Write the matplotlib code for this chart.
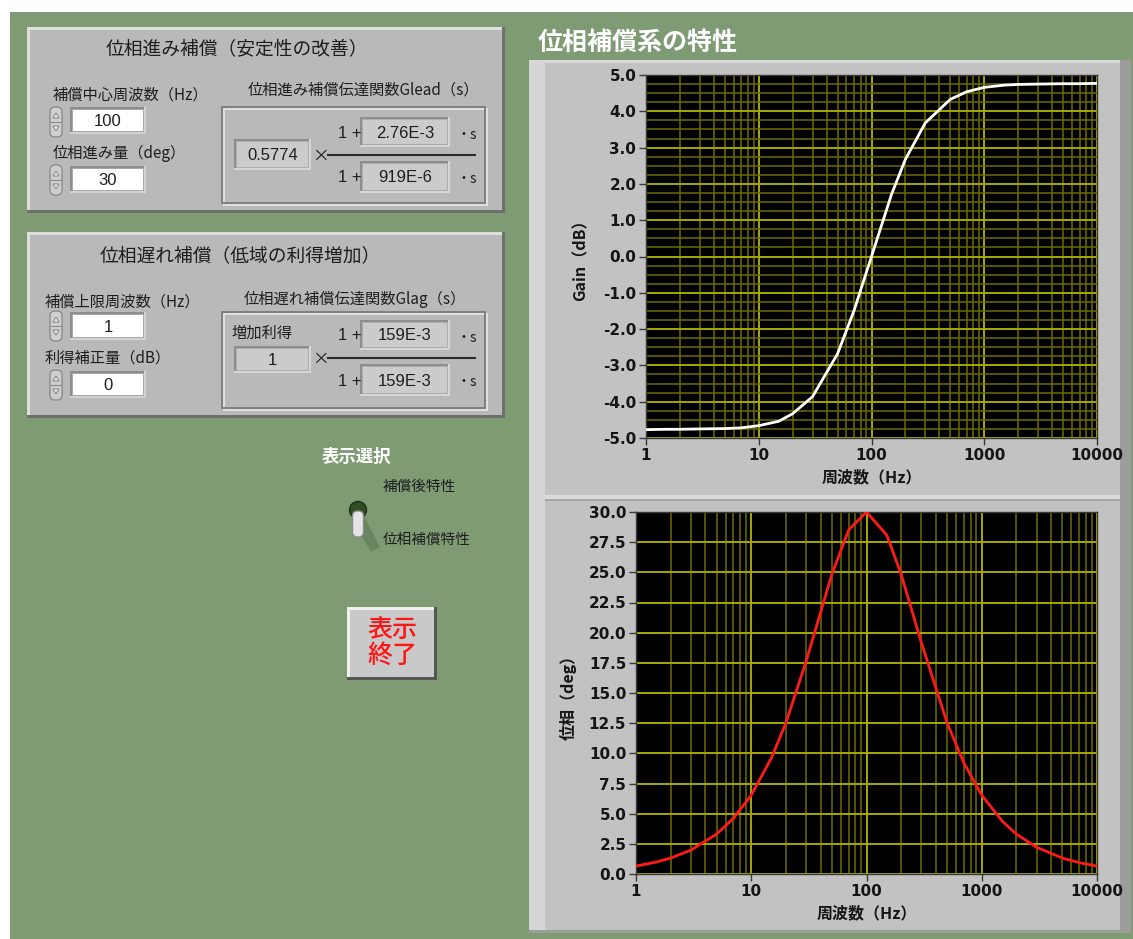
import matplotlib

matplotlib.use("Agg")
import matplotlib.pyplot as plt
from matplotlib.patches import Rectangle, FancyBboxPatch, Polygon, Circle
from matplotlib.ticker import FixedLocator, FixedFormatter, NullFormatter, LogLocator

W, H = 1133, 939

# --- data ---
freq_hz = [1, 1.5, 2, 3, 5, 7, 10, 15, 20, 30, 50, 70, 100, 150, 200, 300,
           500, 700, 1000, 1500, 2000, 3000, 5000, 7000, 10000]
gain_db = [-4.77, -4.76, -4.76, -4.75, -4.74, -4.72, -4.66, -4.54, -4.33, -3.86,
           -2.68, -1.49, 0.0, 1.70, 2.68, 3.68, 4.33, 4.54, 4.66, 4.72, 4.74,
           4.75, 4.76, 4.76, 4.77]
phase_deg = [0.66, 0.99, 1.32, 1.98, 3.30, 4.61, 6.53, 9.63, 12.53, 17.66,
             24.83, 28.51, 30.0, 28.08, 24.83, 19.14, 12.53, 9.20, 6.53, 4.40,
             3.30, 2.21, 1.32, 0.94, 0.66]

freq_ticks = [1, 10, 100, 1000, 10000]
freq_labels = ["1", "10", "100", "1000", "10000"]
gain_ticks = [-5.0, -4.0, -3.0, -2.0, -1.0, 0.0, 1.0, 2.0, 3.0, 4.0, 5.0]
phase_ticks = [0.0, 2.5, 5.0, 7.5, 10.0, 12.5, 15.0, 17.5, 20.0, 22.5, 25.0, 27.5, 30.0]

# --- front panel values ---
lead_center_hz = "100"
lead_amount_deg = "30"
lead_gain = "0.5774"
lead_num = "2.76E-3"
lead_den = "919E-6"
lag_upper_hz = "1"
lag_gain_db = "0"
lag_gain = "1"
lag_num = "159E-3"
lag_den = "159E-3"

GREEN = "#7e9b74"
PANEL = "#b9b9b9"
FRAME = "#c2c2c2"
JP = ["Noto Sans CJK JP", "DejaVu Sans"]
NUM = ["Liberation Sans", "DejaVu Sans"]
INK = "#1e1e1e"

fig = plt.figure(figsize=(W / 100, H / 100), dpi=100)
fig.patch.set_facecolor("white")
bg = fig.add_axes([0, 0, 1, 1])
bg.set_xlim(0, W)
bg.set_ylim(H, 0)
bg.axis("off")


def rect(x0, y0, x1, y1, color, z=1):
    bg.add_patch(Rectangle((x0, y0), x1 - x0, y1 - y0, facecolor=color,
                           edgecolor="none", zorder=z))


def bevel(x0, y0, x1, y1, face, hi, lo, w=2, z=1):
    rect(x0, y0, x1, y1, face, z)
    rect(x0, y0, x1, y0 + w, hi, z + 0.1)
    rect(x0, y0, x0 + w, y1, hi, z + 0.1)
    rect(x0, y1 - w, x1, y1, lo, z + 0.1)
    rect(x1 - w, y0, x1, y1, lo, z + 0.1)


def txt(x, y, s, size=11, ha="left", color=INK, family=JP, weight="normal", z=5):
    bg.text(x, y, s, fontsize=size, ha=ha, va="center", color=color,
            family=family, fontweight=weight, zorder=z)


def spinner(x0, y0, x1, y1):
    bg.add_patch(FancyBboxPatch((x0, y0), x1 - x0, y1 - y0,
                                boxstyle="round,pad=0,rounding_size=5",
                                facecolor="#cfcfcf", edgecolor="#8c8c8c", lw=1, zorder=3))
    cx = (x0 + x1) / 2
    ym = (y0 + y1) / 2
    bg.plot([x0 + 1, x1 - 1], [ym, ym], color="#8c8c8c", lw=0.8, zorder=4)
    bg.add_patch(Polygon([[cx - 3, ym - 4], [cx + 3, ym - 4], [cx, ym - 9]],
                         closed=True, facecolor="#f2f2f2", edgecolor="#8c8c8c", lw=0.8, zorder=4))
    bg.add_patch(Polygon([[cx - 3, ym + 4], [cx + 3, ym + 4], [cx, ym + 9]],
                         closed=True, facecolor="#f2f2f2", edgecolor="#8c8c8c", lw=0.8, zorder=4))


def control(x0, y0, x1, y1, value):
    bevel(x0 - 3, y0 - 3, x1 + 3, y1 + 3, "#a8a8a8", "#8e8e8e", "#d2d2d2", w=2, z=2)
    rect(x0, y0, x1, y1, "white", 3)
    txt((x0 + x1) / 2, (y0 + y1) / 2 + 1, value, size=12, ha="center", family=NUM)


def indicator(x0, y0, x1, y1, value):
    bevel(x0 - 3, y0 - 3, x1 + 3, y1 + 3, "#adadad", "#8e8e8e", "#d6d6d6", w=2, z=2)
    rect(x0, y0, x1, y1, "#cbcbcb", 3)
    txt((x0 + x1) / 2, (y0 + y1) / 2 + 1, value, size=12, ha="center", family=NUM)


def etched(x0, y0, x1, y1):
    bg.add_patch(Rectangle((x0 + 1.5, y0 + 1.5), x1 - x0, y1 - y0, fill=False,
                           edgecolor="#e4e4e4", lw=1.3, zorder=2))
    bg.add_patch(Rectangle((x0, y0), x1 - x0, y1 - y0, fill=False,
                           edgecolor="#7a7a7a", lw=1.3, zorder=2.1))


def transfer(y_top, title, gain, num, den, gain_label=None):
    # y_top is the panel's top edge
    txt(363 - 8 if gain_label else 363, y_top + 63 + (4 if gain_label else 0), title, size=11, ha="center")
    etched(222, y_top + 80, 485, y_top + 176)
    if gain_label:
        txt(232, y_top + 101, gain_label, size=11)
        indicator(237, y_top + 117, 308, y_top + 138, gain)
        yl = y_top + 126
    else:
        indicator(237, y_top + 115, 308, y_top + 140, gain)
        yl = y_top + 128
    txt(320, yl + 1, "×", size=12, ha="center")
    bg.plot([328, 475], [yl, yl], color="#2a2a2a", lw=1.5, zorder=4)
    txt(350, yl - 22, "1 +", size=12, ha="center", family=NUM)
    indicator(363, yl - 35, 447, yl - 11, num)
    txt(467, yl - 20, "・s", size=10, ha="center")
    txt(350, yl + 23, "1 +", size=12, ha="center", family=NUM)
    indicator(363, yl + 9, 447, yl + 35, den)
    txt(467, yl + 24, "・s", size=10, ha="center")


# green panel background
rect(10, 12, W, H, GREEN, 0)

# --- lead compensation panel ---
bevel(27, 27, 505, 213, PANEL, "#dedede", "#6e6e6e", w=3)
txt(237, 50, "位相進み補償（安定性の改善）", size=13.5, ha="center")
txt(53, 95, "補償中心周波数（Hz）", size=11)
spinner(50, 107, 62, 137)
control(73, 110, 143, 131, lead_center_hz)
txt(53, 153, "位相進み量（deg）", size=11)
spinner(50, 165, 62, 195)
control(73, 169, 143, 190, lead_amount_deg)
transfer(27, "位相進み補償伝達関数Glead（s）", lead_gain, lead_num, lead_den)

# --- lag compensation panel ---
bevel(27, 232, 505, 418, PANEL, "#dedede", "#6e6e6e", w=3)
txt(240, 257, "位相遅れ補償（低域の利得増加）", size=13.5, ha="center")
txt(45, 302, "補償上限周波数（Hz）", size=11)
spinner(50, 311, 62, 341)
control(73, 315, 143, 337, lag_upper_hz)
txt(45, 358, "利得補正量（dB）", size=11)
spinner(50, 370, 62, 400)
control(73, 374, 143, 395, lag_gain_db)
transfer(232, "位相遅れ補償伝達関数Glag（s）", lag_gain, lag_num, lag_den, gain_label="増加利得")

# --- display selector toggle ---
txt(322, 457, "表示選択", size=12.5, color="white", weight="bold")
txt(383, 487, "補償後特性", size=10.5)
txt(383, 540, "位相補償特性", size=10.5)
bg.add_patch(Polygon([[352, 520], [364, 516], [380, 547], [371, 552]], closed=True,
                     facecolor="#6a8661", edgecolor="none", zorder=2))
bg.add_patch(Circle((358, 510), 8.5, facecolor="#2f4d27", edgecolor="#1c3016", lw=1, zorder=3))
bg.add_patch(FancyBboxPatch((352.5, 511), 11, 26, boxstyle="round,pad=0,rounding_size=5",
                            facecolor="#e4e4e4", edgecolor="#8a8a8a", lw=1, zorder=4))

# --- stop button ---
bevel(347, 607, 437, 680, "#c9c9c9", "#efefef", "#555555", w=3)
txt(392, 630, "表示", size=18, ha="center", color="#ff1414", weight="medium")
txt(392, 656, "終了", size=18, ha="center", color="#ff1414", weight="medium")

# --- graph frame ---
rect(529, 60, 1131, 933, FRAME, 1)
rect(529, 60, 545, 933, "#d6d6d6", 1.1)
rect(529, 60, 1131, 63, "#d8d8d8", 1.1)
rect(1120, 60, 1131, 933, "#9c9c9c", 1.1)
rect(529, 930, 1131, 933, "#9c9c9c", 1.1)
rect(545, 495, 1120, 499, "#dcdcdc", 1.2)
rect(545, 499, 1120, 501, "#a6a6a6", 1.2)
txt(538, 43, "位相補償系の特性", size=18, color="white", weight="bold")


def style_plot(ax, yticks, ylim, ylabel, ylab_x, xlab_y, yminor=None):
    ax.set_facecolor("black")
    ax.set_xscale("log")
    ax.set_xlim(1, 10000)
    ax.set_ylim(*ylim)
    ax.xaxis.set_major_locator(FixedLocator(freq_ticks))
    ax.xaxis.set_major_formatter(FixedFormatter(freq_labels))
    ax.xaxis.set_minor_locator(LogLocator(base=10, subs=[2, 3, 4, 5, 6, 7, 8, 9]))
    ax.xaxis.set_minor_formatter(NullFormatter())
    ax.yaxis.set_major_locator(FixedLocator(yticks))
    ax.yaxis.set_major_formatter(FixedFormatter([f"{v:.1f}" for v in yticks]))
    if yminor:
        ax.yaxis.set_minor_locator(FixedLocator(yminor))
    ax.grid(True, which="major", color="#a9a900", lw=1.4)
    ax.grid(True, which="minor", color="#6c6c00", lw=1.1)
    ax.set_axisbelow(True)
    ax.tick_params(which="major", direction="out", length=5, width=1, color="#3a3a3a",
                   labelsize=11, pad=2)
    ax.tick_params(which="minor", length=0)
    for lab in ax.get_xticklabels() + ax.get_yticklabels():
        lab.set_fontweight("bold")
        lab.set_color("#151515")
    for sp in ax.spines.values():
        sp.set_color("#3a3a3a")
        sp.set_linewidth(1)
    ax.set_xlabel("周波数（Hz）", family=JP, fontsize=11.5, fontweight="bold", color="#151515")
    ax.set_ylabel(ylabel, family=JP, fontsize=11.5, fontweight="bold", color="#151515")
    ax.yaxis.set_label_coords(ylab_x, 0.5)
    ax.xaxis.set_label_coords(0.5, xlab_y)


# gain plot
ax1 = fig.add_axes([646 / W, 1 - 438 / H, (1097 - 646) / W, (438 - 75) / H])
gain_minor = [v / 4 for v in range(-20, 21) if v % 4 != 0]
style_plot(ax1, gain_ticks, (-5.0, 5.0), "Gain（dB）", -0.128, -0.085, yminor=gain_minor)
ax1.plot(freq_hz, gain_db, color="white", lw=2, zorder=3)

# phase plot
ax2 = fig.add_axes([636 / W, 1 - 874 / H, (1097 - 636) / W, (874 - 512) / H])
style_plot(ax2, phase_ticks, (0.0, 30.0), "位相（deg）", -0.128, -0.087)
ax2.plot(freq_hz, phase_deg, color="#ff1a1a", lw=2, zorder=3)

fig.savefig("out.png", dpi=100, facecolor=fig.get_facecolor())
